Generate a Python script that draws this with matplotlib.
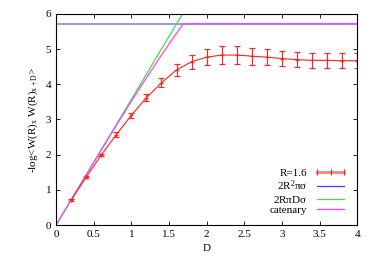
import matplotlib
matplotlib.use('Agg')
import matplotlib.pyplot as plt
from matplotlib.lines import Line2D

plt.rcParams['font.family'] = ['Liberation Serif', 'DejaVu Serif']
plt.rcParams['mathtext.fontset'] = 'custom'
plt.rcParams['mathtext.rm'] = 'Liberation Serif'
plt.rcParams['mathtext.it'] = 'Liberation Serif'

# measured data, R = 1.6
d_data = [0.2, 0.4, 0.6, 0.8, 1.0, 1.2, 1.4, 1.6, 1.8, 2.0,
          2.2, 2.4, 2.6, 2.8, 3.0, 3.2, 3.4, 3.6, 3.8, 4.0]
y_data = [0.71, 1.36, 1.99, 2.57, 3.12, 3.62, 4.04, 4.41, 4.64, 4.77,
          4.83, 4.83, 4.80, 4.77, 4.73, 4.70, 4.68, 4.68, 4.67, 4.67]
y_err = [0.02, 0.03, 0.04, 0.06, 0.07, 0.10, 0.13, 0.18, 0.20, 0.23,
         0.25, 0.25, 0.24, 0.23, 0.22, 0.22, 0.22, 0.22, 0.22, 0.22]

# theory curves
d_flat = [0, 4]
y_flat = [5.72, 5.72]
d_tube = [0, 1.68]
y_tube = [0, 6.0]
d_cat = [0, 0.4, 0.8, 1.0, 1.2, 1.4, 1.6, 1.69, 4]
y_cat = [0, 1.43, 2.83, 3.52, 4.18, 4.83, 5.45, 5.72, 5.72]

red = '#ff2020'
fig = plt.figure(figsize=(3.74, 2.62), dpi=100)
ax = fig.add_axes([0.150, 0.141, 0.805, 0.806])

ax.errorbar(d_data, y_data, yerr=y_err, color=red, lw=0.8, marker='+',
            ms=3, mew=0.8, elinewidth=0.8, capsize=2, capthick=0.8)
ax.plot(d_flat, y_flat, color='#8c8cff', lw=1.3)
l2, = ax.plot(d_tube, y_tube, color='#40e040', lw=0.9)
l3, = ax.plot(d_cat, y_cat, color='#ff40ff', lw=0.9)

# gnuplot-like key entries
h0 = Line2D([], [], color='#ff8080', lw=2, marker='|', ms=5, mew=0.8, mec=red)
h1 = Line2D([], [], color='#4040ff', lw=0.9)

ax.set_xlim(0, 4)
ax.set_ylim(0, 6)
ax.set_xticks([0, 0.5, 1, 1.5, 2, 2.5, 3, 3.5, 4])
ax.set_xticklabels(['0', '0.5', '1', '1.5', '2', '2.5', '3', '3.5', '4'])
ax.set_yticks([0, 1, 2, 3, 4, 5, 6])
ax.tick_params(direction='in', top=True, right=True, labelsize=8, length=3, width=0.6)
for s in ax.spines.values():
    s.set_linewidth(0.8)

ax.set_xlabel('D', fontsize=8)
ax.set_ylabel(r'-log<W(R)$_{\rm x}$ W(R)$_{\rm x+D}$>', fontsize=8)

ax.legend([h0, h1, l2, l3], ['R=1.6', r'2R$^2\pi\sigma$', r'2R$\pi$D$\sigma$', 'catenary'],
          loc='lower right', frameon=False, markerfirst=False, fontsize=8, numpoints=3,
          handlelength=3, labelspacing=0.05, borderaxespad=0.5, handletextpad=0.6)

fig.savefig('out.png', dpi=100)
